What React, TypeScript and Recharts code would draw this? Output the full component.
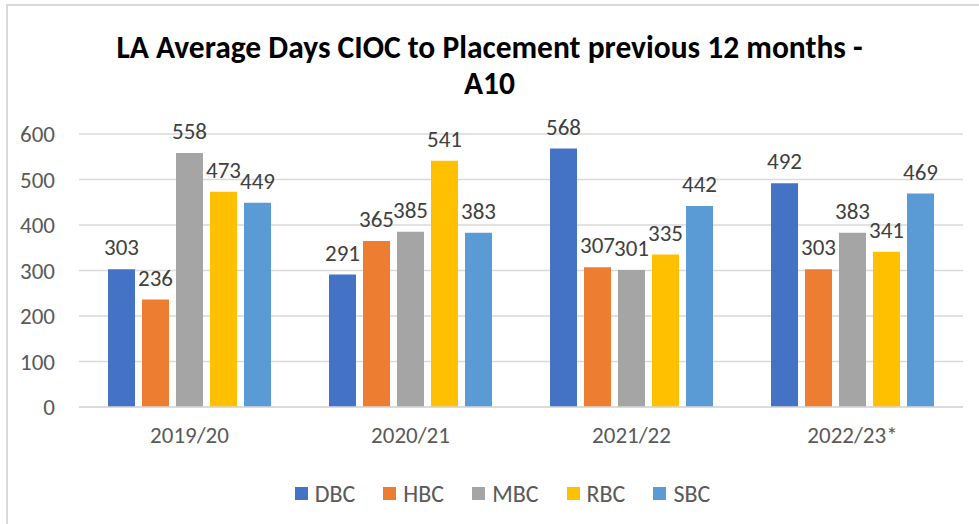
import { BarChart, Bar, XAxis, YAxis, CartesianGrid, Legend, LabelList } from "recharts";

// periods on the x axis
const periods = ["2019/20", "2020/21", "2021/22", "2022/23*"];

// average days per LA, one list each
const dbc = [303, 291, 568, 492];
const hbc = [236, 365, 307, 303];
const mbc = [558, 385, 301, 383];
const rbc = [473, 541, 335, 341];
const sbc = [449, 383, 442, 469];

const yTicks = [0, 100, 200, 300, 400, 500, 600];

const seriesNames = ["DBC", "HBC", "MBC", "RBC", "SBC"];
const seriesColors = ["#4472C4", "#ED7D31", "#A5A5A5", "#FFC000", "#5B9BD5"];

const data = periods.map((p, i) => ({
  period: p,
  DBC: dbc[i],
  HBC: hbc[i],
  MBC: mbc[i],
  RBC: rbc[i],
  SBC: sbc[i],
}));

const FONT = "Carlito, Lato, 'Open Sans', sans-serif";

function XTick(props: any) {
  const { x, y, payload } = props;
  return (
    <text x={x} y={y + 34} textAnchor="middle" fill="#595959" fontSize={23} fontFamily={FONT}>
      {payload.value}
    </text>
  );
}

function YTick(props: any) {
  const { x, y, payload } = props;
  return (
    <text x={x} y={y + 8} textAnchor="end" fill="#595959" fontSize={23} fontFamily={FONT}>
      {payload.value}
    </text>
  );
}

function LegendRow() {
  return (
    <div style={{ display: "flex", justifyContent: "center", gap: 28, fontFamily: FONT, fontSize: 24, color: "#595959", paddingLeft: 26 }}>
      {seriesNames.map((n, i) => (
        <div key={n} style={{ display: "flex", alignItems: "center" }}>
          <span style={{ width: 13, height: 13, background: seriesColors[i], display: "inline-block", marginRight: 7 }} />
          <span>{n}</span>
        </div>
      ))}
    </div>
  );
}

export default function App() {
  return (
    <div style={{ position: "fixed", left: 0, top: 0, width: 979, height: 524, background: "#fff", overflow: "hidden" }}>
      <div style={{ position: "absolute", left: 6, top: 4, width: 990, height: 540, border: "2px solid #D9D9D9" }} />
      <div
        style={{
          position: "absolute",
          left: 0,
          top: 29,
          width: 979,
          textAlign: "center",
          fontFamily: FONT,
          fontWeight: 700,
          fontSize: 31.5,
          lineHeight: "36px",
          color: "#000",
        }}
      >
        LA Average Days CIOC to Placement previous 12 months -<br />
        A10
      </div>
      <BarChart
        width={979}
        height={524}
        data={data}
        margin={{ top: 134, right: 16, left: 0, bottom: 63 }}
        barCategoryGap={29}
        barGap={7}
        style={{ position: "absolute", left: 0, top: 0 }}
      >
        <CartesianGrid vertical={false} stroke="#D9D9D9" strokeWidth={1.5} />
        <XAxis
          dataKey="period"
          axisLine={{ stroke: "#D9D9D9", strokeWidth: 1.5 }}
          tickLine={false}
          tickSize={0}
          tick={<XTick />}
        />
        <YAxis
          domain={[0, 600]}
          ticks={yTicks}
          width={79}
          axisLine={false}
          tickLine={false}
          tickSize={0}
          tickMargin={24}
          tick={<YTick />}
        />
        <Legend
          verticalAlign="bottom"
          height={24}
          wrapperStyle={{ top: 479, left: 0, width: 979 }}
          content={() => <LegendRow />}
        />
        {seriesNames.map((n, i) => (
          <Bar key={n} dataKey={n} fill={seriesColors[i]} barSize={27} isAnimationActive={false}>
            <LabelList dataKey={n} position="top" offset={14} fill="#404040" fontSize={23} fontFamily={FONT} />
          </Bar>
        ))}
      </BarChart>
    </div>
  );
}
